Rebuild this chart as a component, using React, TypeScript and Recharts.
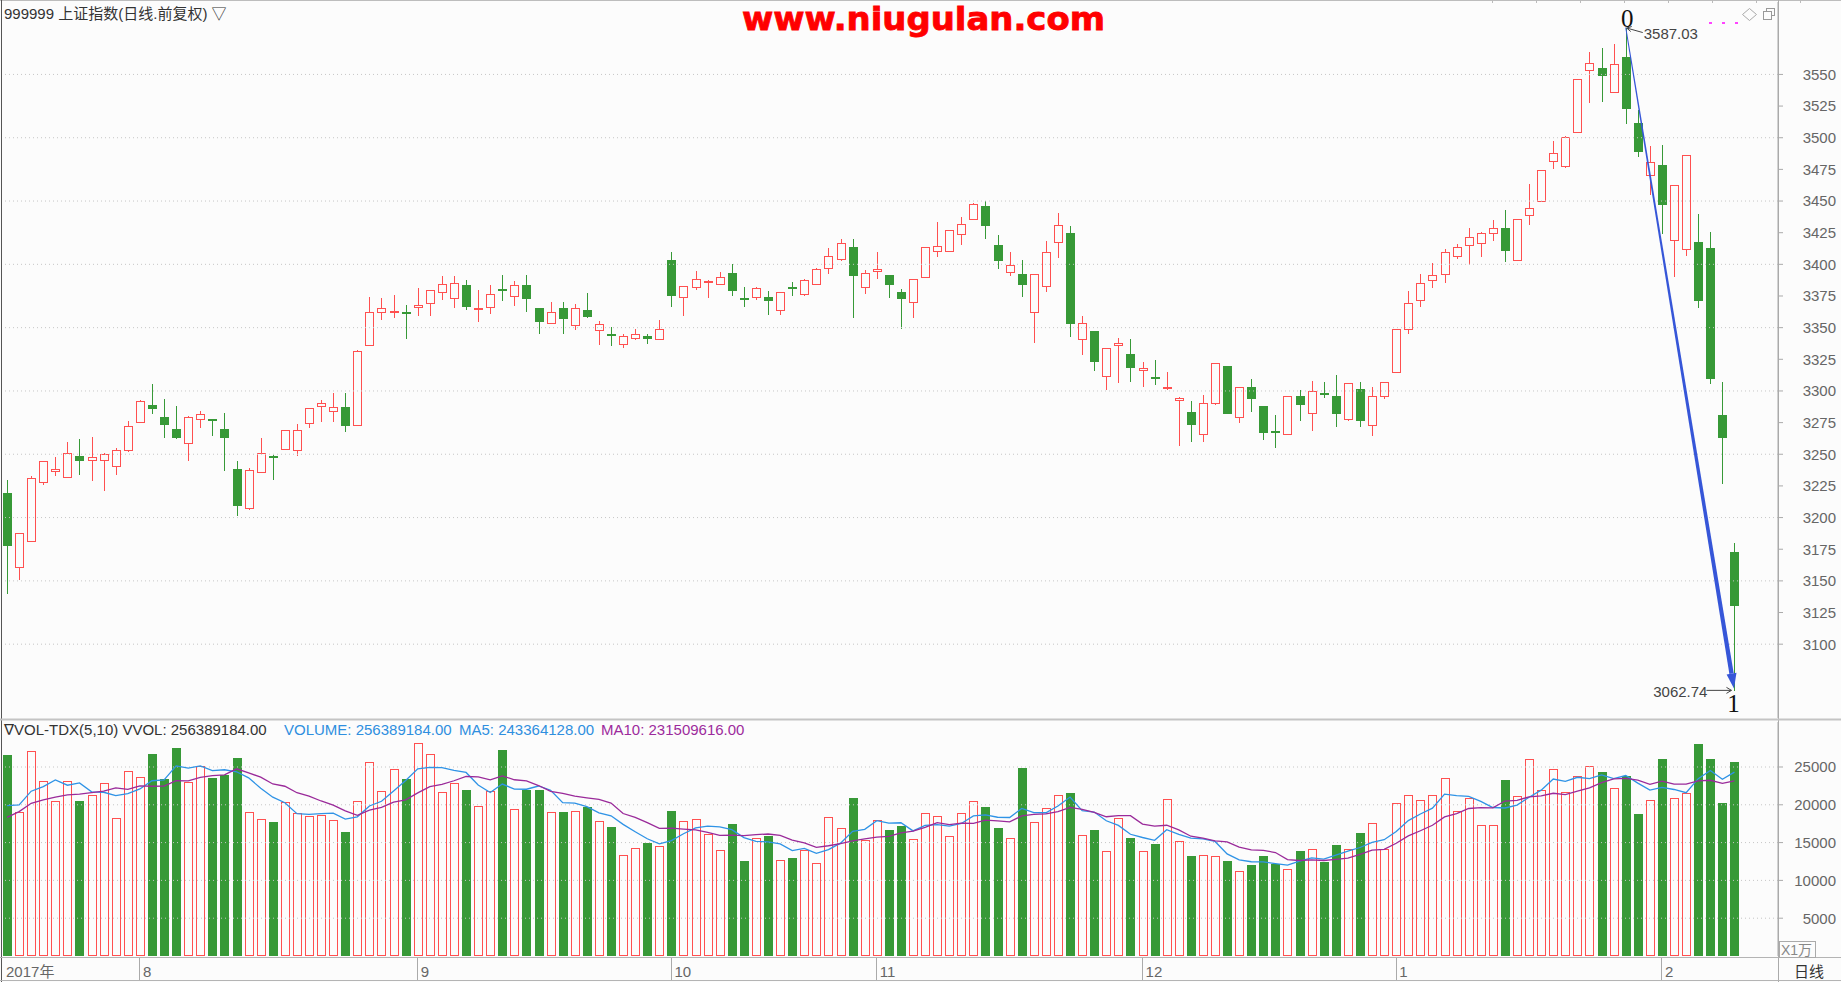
import React from 'react';
import { ComposedChart, Bar, Line, XAxis, YAxis, ReferenceLine, ReferenceDot } from 'recharts';

const RED = '#ff5050';
const GREEN = '#379937';
const BG = '#fcfcfc';
const FONT = '"Liberation Sans", Arial, "DejaVu Sans", "Noto Sans CJK SC", sans-serif';
const CJK = '"Liberation Sans", "Noto Sans CJK SC", "DejaVu Sans", sans-serif';

const opens = [3219.2,3160,3181,3227,3236,3231,3249,3245,3245,3240,
3252.5,3274.6,3288.8,3279.7,3270,3258,3277,3278,3270,3238.4,
3206.5,3235.5,3249,3253.6,3252.5,3273.6,3287.3,3283.7,3287.7,3272.2,
3335.9,3361.2,3361.2,3362,3365.2,3368.8,3377.5,3372.5,3383.3,3364.5,
3365.2,3380.8,3373.9,3383.3,3365.2,3352.5,3365.2,3351.4,3364.1,3347.1,
3344.9,3336.2,3341.3,3343.5,3339.9,3403.3,3373.2,3381.2,3385.1,3384,
3392.8,3373.2,3373.2,3374.3,3363.4,3382.2,3376.1,3384,3396.7,3403.6,
3413.8,3381.2,3393.8,3391.3,3377.9,3369.6,3389.5,3409.4,3410.1,3422.8,
3434.8,3446.4,3415.6,3392.8,3392,3361.2,3381.9,3416.7,3425,3339.9,
3347.1,3310.9,3335.9,3329,3316,3311,3301.4,3291.7,3283.7,3265.2,
3289.9,3319.9,3278.3,3303.3,3288,3268.1,3265.6,3296.4,3281.5,3298.2,
3296.4,3277.2,3301.8,3272.5,3295.3,3314.1,3347.8,3370.7,3386.6,3391.3,
3405.8,3414.1,3416,3423.9,3428.6,3402.9,3438.4,3449.3,3480.8,3476.8,
3503.6,3552.9,3555.1,3535.1,3563.4,3511.6,3469.9,3478.3,3418.5,3411.2,
3417.8,3413,3280.8,3173.2];

const closes = [3177.5,3187.7,3231,3245,3238.4,3250.7,3245,3248,3250,3253,
3272.5,3292.4,3286,3273,3262.7,3279.7,3281.5,3277,3262.7,3209.4,
3237.3,3250.7,3247,3268.8,3268.8,3286.2,3290.6,3287.7,3272.5,3331.9,
3362.3,3365.2,3363.4,3361.5,3368,3379.7,3384.4,3385.5,3366,3365.5,
3376.4,3379.9,3384,3372.5,3354.3,3362.3,3357.2,3365.2,3358.3,3352.9,
3343.1,3343.5,3344.9,3341.3,3349,3375,3383,3388.4,3386.6,3390.2,
3379,3372.5,3381.2,3371,3378.3,3381.2,3387.7,3396.7,3406.9,3416.7,
3390.6,3393.1,3396,3384,3372.5,3388.4,3413.8,3414.5,3427.5,3432.2,
3447.5,3430.4,3402.9,3399.3,3384,3392,3409.8,3430.8,3352.5,3353.6,
3322.5,3334.1,3338,3317.8,3317.8,3309.8,3303.3,3294.6,3272.8,3290.6,
3321.7,3281.5,3303.3,3293.5,3267,3267.4,3296.4,3288.8,3300,3297.1,
3281.5,3306.2,3276.4,3296.4,3307.2,3348.9,3369.6,3385.1,3391.3,3409.4,
3413.8,3421.4,3424.6,3428.6,3410.5,3436.2,3444.6,3474.3,3488,3500.7,
3546,3558.7,3548.6,3558,3522.8,3488.4,3480.8,3446.7,3462.3,3486.6,
3370.7,3309.8,3262.7,3130.4];

const highs = [3230,3188,3232.5,3245,3247.5,3260,3262,3264,3251,3255,
3276,3293,3305.8,3293.5,3288,3280,3284.5,3278,3282.6,3245,
3239,3262.7,3249.5,3269,3273.6,3286.5,3292.8,3298.6,3298.6,3332,
3374.3,3373.2,3375.7,3368,3381.2,3380,3390.6,3390.6,3387.7,3379.4,
3383.3,3391.3,3387,3391.3,3365.2,3370.3,3370.3,3368.8,3377.5,3355.4,
3350.7,3345.3,3348.6,3345.3,3356.2,3410.1,3383,3395,3387.7,3394.2,
3400,3382.2,3382.2,3378.6,3378.3,3386,3388.4,3397.5,3413,3420.3,
3420.3,3395.7,3409.4,3391.3,3380.4,3388.4,3414,3433.7,3427.5,3437.7,
3448.6,3450,3423.2,3409.4,3403.3,3392,3418.8,3440.6,3430,3359.4,
3347.1,3334.1,3341.7,3341.3,3323.2,3324.3,3315.2,3295.3,3291.7,3297.1,
3321.7,3320,3303.3,3309.8,3288,3280.8,3296.4,3300.7,3308,3307.2,
3312.3,3306.2,3307.2,3303.3,3307.2,3349,3378.6,3392,3401.1,3412,
3416,3428.6,3425.7,3434.8,3442.8,3436.2,3463.8,3474.6,3497.1,3501.4,
3546,3568.1,3571,3573.9,3587.03,3521.7,3493.5,3494.6,3462.3,3486.6,
3439.5,3425.7,3307.2,3180.1];

const lows = [3140,3151,3181,3226,3233,3231,3233.7,3229,3221,3234,
3251.5,3274.6,3282,3262.7,3262,3245,3270.7,3264.5,3237,3201,
3206,3235,3229.7,3253,3249,3271,3275.4,3275.4,3267.4,3272,
3335.9,3355.8,3357.6,3341.3,3359.4,3359.4,3372.1,3365.2,3363.8,3354.7,
3360.5,3371,3367.4,3362.3,3345.3,3352.5,3345.3,3347.8,3357.6,3336.2,
3335.9,3334,3340.2,3337,3339.9,3366.7,3359.4,3379.7,3373.2,3384,
3375,3366,3372,3359.8,3360,3375,3375,3383.3,3392,3402.9,
3358,3376.8,3388.8,3373.2,3348.6,3357.6,3389,3405.8,3409.4,3414.9,
3434.8,3420.3,3396.7,3390.6,3373.9,3337.7,3377.9,3404.7,3342.4,3328.6,
3315.9,3300.7,3306.2,3306.9,3303.3,3305,3300.7,3256.2,3259.8,3259.8,
3289,3281.5,3274.6,3283.3,3260.9,3254.7,3265.6,3276.4,3268.1,3294.2,
3271.7,3276.1,3271.7,3264.5,3293.5,3314,3345.3,3366,3381.2,3385.1,
3404,3399.6,3405.8,3418.5,3402.2,3402.9,3431.2,3449.3,3475.4,3475.7,
3503.6,3527.2,3528.3,3535.1,3510.9,3484.8,3454.7,3423.9,3390.2,3406.9,
3365.2,3305.1,3226.4,3062.74];

// volume in units of 万 (x10,000)
const volumes = [26560,19090,27130,23130,20470,23130,20560,21310,22820,18200,
24470,23670,26730,23360,27530,23000,25130,23530,23980,26200,
19000,18160,17670,20330,18960,18510,18690,17980,16380,20470,
25670,21840,24690,23360,28200,26690,21670,22820,22020,19840,
21800,27220,19490,21930,21980,19000,19000,19180,19670,17840,
17040,13310,14330,15000,14510,19220,17800,18160,16200,14020,
17400,12560,15670,15840,12690,13000,13980,12330,18330,16960,
20870,15310,18020,16730,17180,15490,18960,18470,15840,18870,
20510,19670,16870,15670,24910,17670,19620,21360,21530,15980,
16730,13840,18290,15670,13840,14870,20820,15180,13220,13360,
13180,12560,11220,12020,13220,12110,11530,13890,14160,12420,
14730,14200,16240,17530,14200,20200,21360,20640,21360,23530,
19180,20870,17310,17310,23220,21130,26020,21980,24690,21670,
23840,25180,24380,22200,23760,18780,20640,26070,20870,21620,
28070,26070,20200,25639];

// moving-average values before a full window exists
const ma5Head = [19900, 19980, 21800, 22400];
const ma10Head = [18330, 19100, 20200, 20640, 21000, 21300, 21400, 21600, 21800];

const priceTicks = [3100,3125,3150,3175,3200,3225,3250,3275,3300,3325,3350,3375,3400,3425,3450,3475,3500,3525,3550];
const priceGrid = [3100,3150,3200,3250,3300,3350,3400,3450,3500,3550];
const volTicks = [5000,10000,15000,20000,25000];
const monthLabels = [
  { i: 0, label: '2017年' }, { i: 11, label: '8' }, { i: 34, label: '9' }, { i: 55, label: '10' },
  { i: 72, label: '11' }, { i: 94, label: '12' }, { i: 115, label: '1' }, { i: 137, label: '2' },
];
const peak = { i: 134, value: 3587.03, label: '0' };
const trough = { i: 143, value: 3062.74, label: '1' };
const legendVals = { vvol: '256389184.00', volume: '256389184.00', ma5: '243364128.00', ma10: '231509616.00' };

const movingAvg = (n: number, head: number[]) =>
  volumes.map((_, i) => {
    if (i < n - 1) return head[i];
    let s = 0;
    for (let k = i - n + 1; k <= i; k++) s += volumes[k];
    return s / n;
  });
const ma5 = movingAvg(5, ma5Head);
const ma10 = movingAvg(10, ma10Head);

const rows = opens.map((open, i) => ({
  d: String(i),
  open,
  high: highs[i],
  low: lows[i],
  close: closes[i],
  up: closes[i] >= open,
  vol: volumes[i],
  ma5: ma5[i],
  ma10: ma10[i],
}));

const Candle = (props: any) => {
  const { x, y, width, height, payload } = props;
  if (!payload || x == null) return null;
  const cx = x + width / 2;
  const top = Math.min(y, y + height);
  const bot = Math.max(y, y + height);
  const span = payload.high - payload.low;
  const py = (v: number) => (span > 0 ? top + ((payload.high - v) / span) * (bot - top) : top);
  const yo = py(payload.open);
  const yc = py(payload.close);
  const bTop = Math.round(Math.min(yo, yc));
  const bBot = Math.round(Math.max(yo, yc));
  const c = Math.floor(cx);
  const wx = c + 0.5;
  const left = c - 4;
  const hT = Math.round(top);
  const hB = Math.round(bot);
  if (payload.up) {
    const h = Math.max(0, bBot - bTop - 1);
    return (
      <g>
        {bTop > hT && <line x1={wx} y1={hT} x2={wx} y2={bTop} stroke={RED} strokeWidth={1} />}
        {hB > bBot && <line x1={wx} y1={bBot} x2={wx} y2={hB} stroke={RED} strokeWidth={1} />}
        <rect x={left + 0.5} y={bTop + 0.5} width={8} height={Math.max(h, 1)} fill={BG} stroke={RED} strokeWidth={1} />
      </g>
    );
  }
  return (
    <g>
      <line x1={wx} y1={hT} x2={wx} y2={hB} stroke={GREEN} strokeWidth={1} />
      <rect x={left} y={bTop} width={9} height={Math.max(2, bBot - bTop)} fill={GREEN} />
    </g>
  );
};

const VolBar = (props: any) => {
  const { x, y, width, height, payload } = props;
  if (!payload || x == null) return null;
  const cx = x + width / 2;
  const c = Math.floor(cx);
  const left = c - 4;
  const t = Math.round(Math.min(y, y + height));
  const b = Math.round(Math.max(y, y + height));
  if (payload.up) {
    return <rect x={left + 0.5} y={t + 0.5} width={8} height={Math.max(1, b - t - 1)} fill={BG} stroke={RED} strokeWidth={1} />;
  }
  return <rect x={left} y={t} width={9} height={Math.max(1, b - t)} fill={GREEN} />;
};

const WedgeArrow = (p: any) => {
  const { x1, y1, x2, y2 } = p;
  if (x1 == null) return null;
  const dx = x2 - x1;
  const dy = y2 - y1;
  const L = Math.hypot(dx, dy);
  const ux = dx / L;
  const uy = dy / L;
  const nx = -uy;
  const ny = ux;
  const tipX = x2 - ux * 3;
  const tipY = y2 - uy * 3;
  const headLen = 15;
  const bx = tipX - ux * headLen;
  const by = tipY - uy * headLen;
  const w0 = 0.5;
  const w1 = 2.2;
  const hw = 5;
  const color = '#3656d8';
  const body = `${x1 + nx * w0},${y1 + ny * w0} ${bx + nx * w1},${by + ny * w1} ${bx - nx * w1},${by - ny * w1} ${x1 - nx * w0},${y1 - ny * w0}`;
  const head = `${tipX},${tipY} ${bx + nx * hw},${by + ny * hw} ${bx - nx * hw},${by - ny * hw}`;
  return (
    <g>
      <polygon points={body} fill={color} />
      <polygon points={head} fill={color} />
    </g>
  );
};

const PeakMark = (p: any) => {
  const { cx, cy } = p;
  if (cx == null) return null;
  return (
    <g>
      <text x={cx + 1.5} y={cy - 1} textAnchor="middle" fontSize={25} fontFamily='"Liberation Serif", "DejaVu Serif", serif' fill="#111">{peak.label}</text>
      <line x1={cx + 17} y1={cy + 5} x2={cx + 1} y2={cy + 0.5} stroke="#444" strokeWidth={1} />
      <polyline points={`${cx + 6},${cy - 1} ${cx + 1},${cy + 0.5} ${cx + 5},${cy + 4}`} fill="none" stroke="#444" strokeWidth={1} />
      <text x={cx + 18} y={cy + 11.5} fontSize={15} fontFamily={FONT} fill="#444">{peak.value.toFixed(2)}</text>
    </g>
  );
};

const TroughMark = (p: any) => {
  const { cx, cy } = p;
  if (cx == null) return null;
  return (
    <g>
      <text x={cx - 1} y={cy + 20.5} textAnchor="middle" fontSize={25} fontFamily='"Liberation Serif", "DejaVu Serif", serif' fill="#111">{trough.label}</text>
      <line x1={cx - 28} y1={cy - 1} x2={cx - 3} y2={cy - 1} stroke="#444" strokeWidth={1} />
      <polyline points={`${cx - 8},${cy - 4} ${cx - 3},${cy - 1} ${cx - 8},${cy + 2}`} fill="none" stroke="#444" strokeWidth={1} />
      <text x={cx - 27} y={cy + 5.5} textAnchor="end" fontSize={15} fontFamily={FONT} fill="#444">{trough.value.toFixed(2)}</text>
    </g>
  );
};

const AxisTick = (p: any) => (
  <text x={p.x + 53} y={p.y} dy="0.36em" textAnchor="end" fontSize={15} fontFamily={FONT} fill="#666">
    {p.payload.value}
  </text>
);

const MonthTick = (p: any) => {
  const m = monthLabels.find((ml) => String(ml.i) === String(p.payload.value));
  if (!m) return null;
  const x = p.x;
  const y = p.y;
  if (m.i === 0) {
    return (
      <text x={x - 1} y={y + 21} fontSize={15} fontFamily={CJK} fill="#666">{m.label}</text>
    );
  }
  const lx = Math.floor(x) + 0.5;
  return (
    <g>
      <line x1={lx} y1={y + 2} x2={lx} y2={y + 24} stroke="#aaa" strokeWidth={1} />
      <text x={x + 3} y={y + 21} fontSize={15} fontFamily={FONT} fill="#666">{m.label}</text>
    </g>
  );
};

const gridStroke = '#c6c6c6';

export default function App() {
  return (
    <div style={{ position: 'absolute', left: 0, top: 0, width: 1841, height: 982, background: BG, overflow: 'hidden' }}>
      <div style={{ position: 'absolute', left: 0, top: 0 }}>
        <ComposedChart width={1841} height={720} data={rows} margin={{ top: 2, right: 0, bottom: 2, left: 1 }}>
          <XAxis dataKey="d" hide padding={{ left: 0, right: 37.5 }} />
          <YAxis
            orientation="right"
            width={63}
            type="number"
            domain={[3041.7, 3607.2]}
            allowDataOverflow
            ticks={priceTicks}
            interval={0}
            tickSize={5}
            tickMargin={0}
            axisLine={{ stroke: '#aaa' }}
            tickLine={{ stroke: '#aaa' }}
            tick={(p: any) => <AxisTick {...p} />}
          />
          {priceGrid.map((v) => (
            <ReferenceLine key={v} y={v} stroke={gridStroke} strokeDasharray="1 3" />
          ))}
          <Bar dataKey={(r: any) => [r.low, r.high]} shape={Candle} isAnimationActive={false} barSize={9} />
          <ReferenceLine
            segment={[{ x: String(peak.i), y: peak.value }, { x: String(trough.i), y: trough.value }]}
            shape={WedgeArrow}
          />
          <ReferenceDot x={String(peak.i)} y={peak.value} r={0} shape={PeakMark} />
          <ReferenceDot x={String(trough.i)} y={trough.value} r={0} shape={TroughMark} />
        </ComposedChart>
      </div>
      <div style={{ position: 'absolute', left: 0, top: 720 }}>
        <ComposedChart width={1841} height={262} data={rows} margin={{ top: 2, right: 0, bottom: 2, left: 1 }}>
          <XAxis
            dataKey="d"
            padding={{ left: 0, right: 37.5 }}
            height={24}
            ticks={monthLabels.map((m) => String(m.i))}
            interval={0}
            tickSize={0}
            tickMargin={0}
            axisLine={false}
            tickLine={false}
            tick={(p: any) => <MonthTick {...p} />}
          />
          <YAxis
            orientation="right"
            width={63}
            type="number"
            domain={[0, 30950]}
            allowDataOverflow
            ticks={volTicks}
            interval={0}
            tickSize={5}
            tickMargin={0}
            axisLine={{ stroke: '#aaa' }}
            tickLine={{ stroke: '#aaa' }}
            tick={(p: any) => <AxisTick {...p} />}
          />
          {volTicks.map((v) => (
            <ReferenceLine key={v} y={v} stroke={gridStroke} strokeDasharray="1 3" />
          ))}
          <Bar dataKey="vol" shape={VolBar} isAnimationActive={false} barSize={9} />
          <Line dataKey="ma5" type="linear" stroke="#2f93e6" strokeWidth={1.3} dot={false} activeDot={false} isAnimationActive={false} />
          <Line dataKey="ma10" type="linear" stroke="#9a2a9a" strokeWidth={1.3} dot={false} activeDot={false} isAnimationActive={false} />
        </ComposedChart>
      </div>
      <svg width={1841} height={982} style={{ position: 'absolute', left: 0, top: 0, pointerEvents: 'none' }}>
        <line x1={0} y1={0.5} x2={1841} y2={0.5} stroke="#bdbdbd" />
        {[1492, 1536, 1580, 1624, 1668, 1712, 1756, 1800].map((tx) => (
          <line key={tx} x1={tx + 0.5} y1={0} x2={tx + 0.5} y2={3} stroke="#bbb" />
        ))}
        <line x1={1.5} y1={0} x2={1.5} y2={982} stroke="#555" />
        <line x1={1778.5} y1={0} x2={1778.5} y2={982} stroke="#aaa" />
        <line x1={0} y1={719.5} x2={1841} y2={719.5} stroke="#c4c4c4" strokeWidth={2} />
        <line x1={0} y1={957.5} x2={1841} y2={957.5} stroke="#b4b4b4" />
        <line x1={0} y1={980.5} x2={1841} y2={980.5} stroke="#b4b4b4" />
        <text x={4} y={19} fontSize={15} fontFamily={CJK} fill="#333">999999 上证指数(日线.前复权) ▽</text>
        <text
          x={742}
          y={30}
          fontSize={32}
          fontWeight={900}
          fontFamily='"DejaVu Sans", "Liberation Sans", sans-serif'
          fill="#ff0000"
          stroke="#ff0000"
          strokeWidth={0.8}
          textLength={363}
          lengthAdjust="spacingAndGlyphs"
        >
          www.niugulan.com
        </text>
        {[1709, 1722, 1735].map((mx) => (
          <rect key={mx} x={mx} y={22} width={3} height={2} fill="#ff44ff" />
        ))}
        <path d="M1749.5,8.5 L1756.5,14.5 L1749.5,20.5 L1742.5,14.5 Z" fill="none" stroke="#aaa" />
        <rect x={1766.5} y={8.5} width={8} height={7} fill={BG} stroke="#999" />
        <rect x={1763.5} y={11.5} width={8} height={8} fill={BG} stroke="#999" />
        <text y={735} fontSize={15} fontFamily={FONT}>
          <tspan x={4} fill="#333">∇VOL-TDX(5,10) VVOL: {legendVals.vvol}</tspan>
          <tspan x={284} fill="#2f8fdf">VOLUME: {legendVals.volume}</tspan>
          <tspan x={459} fill="#2f8fdf">MA5: {legendVals.ma5}</tspan>
          <tspan x={601} fill="#9c2b9c">MA10: {legendVals.ma10}</tspan>
        </text>
        <rect x={1779.5} y={941.5} width={36} height={16} fill={BG} stroke="#aaa" />
        <text x={1781} y={955} fontSize={14} fontFamily={CJK} fill="#888">X1万</text>
        <text x={1794} y={977} fontSize={15} fontFamily={CJK} fill="#333">日线</text>
      </svg>
    </div>
  );
}
